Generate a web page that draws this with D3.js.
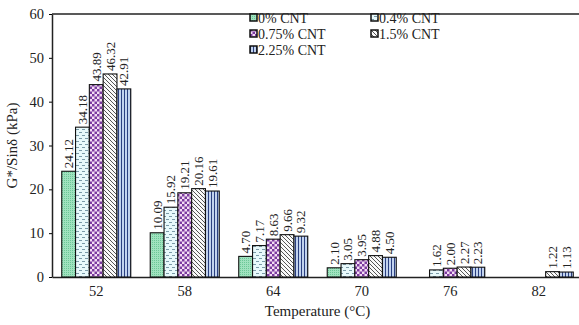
<!DOCTYPE html>
<html>
<head>
<meta charset="utf-8">
<script src="https://cdn.jsdelivr.net/npm/d3@7"></script>
<style>
  body { margin: 0; background: #fff; }
  svg { display: block; font-family: "Liberation Serif", "DejaVu Serif", serif; }
</style>
</head>
<body>
<script>
// data
var temps = ["52", "58", "64", "70", "76", "82"];
var seriesNames = ["0% CNT", "0.4% CNT", "0.75% CNT", "1.5% CNT", "2.25% CNT"];
var cnt0   = [24.12, 10.09, 4.70, 2.10, null, null];
var cnt04  = [34.18, 15.92, 7.17, 3.05, 1.62, null];
var cnt075 = [43.89, 19.21, 8.63, 3.95, 2.00, null];
var cnt15  = [46.32, 20.16, 9.66, 4.88, 2.27, 1.22];
var cnt225 = [42.91, 19.61, 9.32, 4.50, 2.23, 1.13];
var yTicks = [0, 10, 20, 30, 40, 50, 60];

var allSeries = [cnt0, cnt04, cnt075, cnt15, cnt225];

var W = 579, H = 325;
var margin = {top: 14, right: 0, bottom: 48, left: 52},
    width = W - margin.left - margin.right,
    height = H - margin.top - margin.bottom;

var svg = d3.select("body").append("svg")
    .attr("width", W)
    .attr("height", H);

// patterns for each series
var defs = svg.append("defs");

// 0% : mint green with fine dots
var p0 = defs.append("pattern").attr("id", "pat0").attr("patternUnits", "userSpaceOnUse")
    .attr("width", 2).attr("height", 2);
p0.append("rect").attr("width", 2).attr("height", 2).attr("fill", "#a0e2bf");
p0.append("rect").attr("width", 1).attr("height", 1).attr("fill", "#6cc797");

// 0.4% : pale cyan with staggered dashes
var p1 = defs.append("pattern").attr("id", "pat1").attr("patternUnits", "userSpaceOnUse")
    .attr("width", 6).attr("height", 6);
p1.append("rect").attr("width", 6).attr("height", 6).attr("fill", "#e8f9fb");
p1.append("rect").attr("x", 0).attr("y", 1).attr("width", 3).attr("height", 1).attr("fill", "#7a9aa8");
p1.append("rect").attr("x", 3).attr("y", 4).attr("width", 3).attr("height", 1).attr("fill", "#7a9aa8");

// 0.75% : purple checkerboard
var p2 = defs.append("pattern").attr("id", "pat2").attr("patternUnits", "userSpaceOnUse")
    .attr("width", 5).attr("height", 5);
p2.append("rect").attr("width", 5).attr("height", 5).attr("fill", "#f3dcf3");
p2.append("rect").attr("width", 2.5).attr("height", 2.5).attr("fill", "#7b3aa0");
p2.append("rect").attr("x", 2.5).attr("y", 2.5).attr("width", 2.5).attr("height", 2.5).attr("fill", "#7b3aa0");

// 1.5% : white with diagonal hatching
var p3 = defs.append("pattern").attr("id", "pat3").attr("patternUnits", "userSpaceOnUse")
    .attr("width", 4).attr("height", 4);
p3.append("rect").attr("width", 4).attr("height", 4).attr("fill", "#fafafa");
p3.append("path").attr("d", "M-1,-1 L5,5 M-1,3 L1,5 M3,-1 L5,1")
    .attr("stroke", "#555").attr("stroke-width", 1);

// 2.25% : blue vertical stripes
var p4 = defs.append("pattern").attr("id", "pat4").attr("patternUnits", "userSpaceOnUse")
    .attr("width", 3).attr("height", 3);
p4.append("rect").attr("width", 3).attr("height", 3).attr("fill", "#c2d3ee");
p4.append("rect").attr("width", 1).attr("height", 3).attr("fill", "#2a3f80");

var g = svg.append("g")
    .attr("transform", "translate(" + margin.left + "," + margin.top + ")");

var x0 = d3.scaleBand().domain(temps).range([0, width + 4]).paddingInner(0.22).paddingOuter(0.11);
var x1 = d3.scaleBand().domain(d3.range(seriesNames.length)).range([0, x0.bandwidth()]);
var y = d3.scaleLinear().domain([0, 60]).range([height, 0]);

// axes
var yAxis = g.append("g")
    .call(d3.axisLeft(y).tickValues(yTicks).tickSize(3).tickSizeOuter(0).tickPadding(5));
yAxis.select(".domain").attr("stroke", "#222").attr("stroke-width", 1.5);
yAxis.selectAll("text").attr("font-size", 14.5).attr("fill", "#222")
    .attr("font-family", "Liberation Serif");

var xAxis = g.append("g")
    .attr("transform", "translate(0," + height + ")")
    .call(d3.axisBottom(x0).tickSize(0).tickSizeOuter(0).tickPadding(9));
xAxis.select(".domain").attr("stroke", "#222").attr("stroke-width", 1.5);
xAxis.selectAll("text").attr("font-size", 14.5).attr("fill", "#222")
    .attr("font-family", "Liberation Serif");

// top frame line
g.append("line")
    .attr("x1", 0).attr("x2", width)
    .attr("y1", y(60)).attr("y2", y(60))
    .attr("stroke", "#222").attr("stroke-width", 1.5);

// bars
var flat = [];
temps.forEach(function(t, i) {
    allSeries.forEach(function(s, j) {
        if (s[i] != null) flat.push({temp: t, s: j, v: s[i]});
    });
});

g.selectAll(".bar").data(flat).enter().append("rect")
    .attr("class", "bar")
    .attr("x", function(d) { return x0(d.temp) + x1(d.s); })
    .attr("y", function(d) { return y(d.v); })
    .attr("width", x1.bandwidth())
    .attr("height", function(d) { return y(0) - y(d.v); })
    .attr("fill", function(d) { return "url(#pat" + d.s + ")"; })
    .attr("stroke", "#111").attr("stroke-width", 1.1);

g.selectAll(".lbl").data(flat).enter().append("text")
    .attr("class", "lbl")
    .attr("transform", function(d) {
        var cx = x0(d.temp) + x1(d.s) + x1.bandwidth() / 2;
        return "translate(" + (cx + 4.5) + "," + (y(d.v) - 3) + ") rotate(-90)";
    })
    .attr("font-size", 13).attr("fill", "#222")
    .text(function(d) { return d.v.toFixed(2); });

// legend
var legend = svg.append("g");
var legPos = [[250, 18], [371, 18], [250, 34], [371, 34], [250, 50]];
seriesNames.forEach(function(name, j) {
    var lg = legend.append("g").attr("transform", "translate(" + legPos[j][0] + "," + legPos[j][1] + ")");
    lg.append("rect").attr("x", 0).attr("y", -4).attr("width", 7).attr("height", 7)
        .attr("fill", "url(#pat" + j + ")").attr("stroke", "#111").attr("stroke-width", 1.5);
    lg.append("text").attr("x", 8).attr("y", 4.5).attr("font-size", 14).attr("fill", "#222")
        .text(name);
});

// axis titles
svg.append("text")
    .attr("x", margin.left + width / 2 + 2).attr("y", 316)
    .attr("text-anchor", "middle").attr("font-size", 15).attr("fill", "#222")
    .text("Temperature (°C)");

svg.append("text")
    .attr("transform", "translate(17," + (margin.top + height / 2) + ") rotate(-90)")
    .attr("text-anchor", "middle").attr("font-size", 15).attr("fill", "#222")
    .text("G*/Sinδ (kPa)");
</script>
</body>
</html>
